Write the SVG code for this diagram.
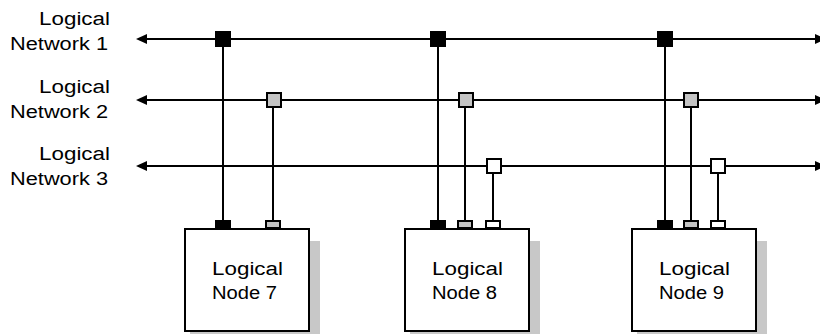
<svg xmlns="http://www.w3.org/2000/svg" width="820" height="336" viewBox="0 0 820 336">
  <defs>
    <marker id="arrow" viewBox="0 0 11 10" refX="0" refY="5" markerWidth="11" markerHeight="10" markerUnits="userSpaceOnUse" orient="auto-start-reverse">
      <path d="M0,0 L11,5 L0,10 z" fill="#000"/>
    </marker>
  </defs>
  <style>
    .lbl { font-family: "Liberation Sans", Arial, sans-serif; font-size: 18px; fill: #000; }
    .net { stroke: #000; stroke-width: 2; fill: none; }
    .drop { stroke: #000; stroke-width: 2; fill: none; }
    .sq { stroke: #000; stroke-width: 2; }
    .box { fill: #fff; stroke: #000; stroke-width: 2; }
    .shadow { fill: #c8c8c8; }
    .k { fill: #000; }
    .g { fill: #c4c4c4; }
    .w { fill: #fff; }
  </style>
  <rect width="820" height="336" fill="#fff"/>

  <!-- network labels -->
  <g id="labels">
    <text class="lbl" x="39" y="25" textLength="71" lengthAdjust="spacingAndGlyphs">Logical</text>
    <text class="lbl" x="10" y="50" textLength="98" lengthAdjust="spacingAndGlyphs">Network 1</text>
    <text class="lbl" x="39" y="93" textLength="71" lengthAdjust="spacingAndGlyphs">Logical</text>
    <text class="lbl" x="10" y="118" textLength="98" lengthAdjust="spacingAndGlyphs">Network 2</text>
    <text class="lbl" x="39" y="160" textLength="71" lengthAdjust="spacingAndGlyphs">Logical</text>
    <text class="lbl" x="10" y="185" textLength="98" lengthAdjust="spacingAndGlyphs">Network 3</text>
  </g>

  <!-- node boxes -->
  <g id="node7">
    <rect class="shadow" x="190" y="241" width="130" height="93"/>
    <rect class="box" x="185" y="229" width="124" height="102"/>
    <text class="lbl" x="212" y="275" textLength="71" lengthAdjust="spacingAndGlyphs">Logical</text>
    <text class="lbl" x="212" y="299" textLength="65" lengthAdjust="spacingAndGlyphs">Node 7</text>
  </g>
  <g id="node8">
    <rect class="shadow" x="410" y="241" width="130" height="93"/>
    <rect class="box" x="405" y="229" width="124" height="102"/>
    <text class="lbl" x="432" y="275" textLength="71" lengthAdjust="spacingAndGlyphs">Logical</text>
    <text class="lbl" x="432" y="299" textLength="65" lengthAdjust="spacingAndGlyphs">Node 8</text>
  </g>
  <g id="node9">
    <rect class="shadow" x="637" y="241" width="130" height="93"/>
    <rect class="box" x="632" y="229" width="124" height="102"/>
    <text class="lbl" x="659" y="275" textLength="71" lengthAdjust="spacingAndGlyphs">Logical</text>
    <text class="lbl" x="659" y="299" textLength="65" lengthAdjust="spacingAndGlyphs">Node 9</text>
  </g>

  <!-- networks, drops, taps and ports -->
  <g id="connectors">
    <line class="net" x1="147" y1="39" x2="815" y2="39" marker-start="url(#arrow)" marker-end="url(#arrow)"/>
    <line class="net" x1="147" y1="100" x2="815" y2="100" marker-start="url(#arrow)" marker-end="url(#arrow)"/>
    <line class="net" x1="147" y1="166" x2="815" y2="166" marker-start="url(#arrow)" marker-end="url(#arrow)"/>

    <line class="drop" x1="223" y1="39" x2="223" y2="221"/>
    <line class="drop" x1="273" y1="100" x2="273" y2="221"/>
    <line class="drop" x1="438" y1="39" x2="438" y2="221"/>
    <line class="drop" x1="465" y1="100" x2="465" y2="221"/>
    <line class="drop" x1="493" y1="166" x2="493" y2="221"/>
    <line class="drop" x1="665" y1="39" x2="665" y2="221"/>
    <line class="drop" x1="691" y1="100" x2="691" y2="221"/>
    <line class="drop" x1="718" y1="166" x2="718" y2="221"/>

    <!-- taps on the networks -->
    <rect class="sq k" x="216" y="32" width="14" height="14"/>
    <rect class="sq k" x="431" y="32" width="14" height="14"/>
    <rect class="sq k" x="658" y="32" width="14" height="14"/>
    <rect class="sq g" x="267" y="93" width="14" height="14"/>
    <rect class="sq g" x="459" y="93" width="14" height="14"/>
    <rect class="sq g" x="684" y="93" width="14" height="14"/>
    <rect class="sq w" x="487" y="159" width="14" height="14"/>
    <rect class="sq w" x="711" y="159" width="14" height="14"/>

    <!-- ports on the nodes -->
    <rect class="sq k" x="216" y="221" width="14" height="7"/>
    <rect class="sq g" x="266" y="221" width="14" height="7"/>
    <rect class="sq k" x="431" y="221" width="14" height="7"/>
    <rect class="sq g" x="458" y="221" width="14" height="7"/>
    <rect class="sq w" x="486" y="221" width="14" height="7"/>
    <rect class="sq k" x="658" y="221" width="14" height="7"/>
    <rect class="sq g" x="684" y="221" width="14" height="7"/>
    <rect class="sq w" x="711" y="221" width="14" height="7"/>
  </g>
</svg>
